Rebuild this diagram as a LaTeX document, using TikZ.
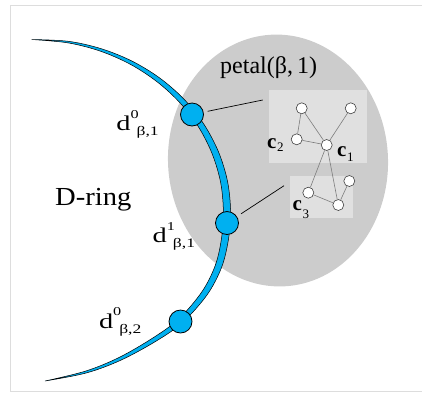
\documentclass[tikz,border=0pt]{standalone}
\usepackage{fontspec}
\setmainfont{Liberation Serif}
\usepackage{graphicx}
\definecolor{ringblue}{RGB}{0,176,240}
\definecolor{petalgray}{RGB}{204,204,204}
\definecolor{boxgray}{RGB}{224,224,224}
\definecolor{framegray}{RGB}{221,221,221}
\definecolor{linkgray}{RGB}{125,125,125}
\newcommand{\dlbl}[3]{\scalebox{1.35}[1]{\fontsize{21}{21}\selectfont d\rlap{\raisebox{#3}{\fontsize{12}{12}\selectfont #1}}\kern4.5pt\raisebox{-5pt}{\fontsize{13}{13}\selectfont #2}}}
\newcommand{\clbl}[2]{{\fontsize{21}{21}\selectfont\bfseries c}\kern0.5pt\raisebox{-#2}{\fontsize{13}{13}\selectfont #1}}
\begin{document}
\begin{tikzpicture}[x=1pt,y=-1pt,
  bignode/.style={circle, fill=ringblue, draw=black, line width=0.8pt, minimum size=23pt, inner sep=0pt},
  smallnode/.style={circle, fill=white, draw=black!75, line width=0.6pt, minimum size=11pt, inner sep=0pt},
  linkline/.style={draw=linkgray, line width=0.6pt},
  pointer/.style={draw=black, line width=0.7pt},
  groupbox/.style={fill=boxgray, draw=none},
  lbl/.style={inner sep=0pt, anchor=base west}]
\useasboundingbox (0,0) rectangle (422,392);
% frame
\draw[framegray, line width=1pt] (422,5.3) -- (10.3,5.3) -- (10.3,391.3) -- (422,391.3);
% petal
\fill[petalgray] plot[domain=0:360, samples=120, smooth] ({278+109.85*cos(\x)+6.59*sin(\x)},{160.5-5.76*cos(\x)+125.8*sin(\x)}) -- cycle;
\fill[groupbox] (269.3,90) rectangle (366.7,163.3);
\fill[groupbox] (290,176) rectangle (353.3,218.3);
% ring band (tapered)
\filldraw[fill=ringblue, draw=black, line width=0.5pt]
  plot[smooth, tension=0.55] coordinates {(31.6,39.5) (68.43,41.31) (101.1,48.66) (131.83,61.0) (159.79,78.06) (184.07,99.26) (203.82,124.13) (218.46,151.76) (227.54,181.38) (230.6,212) (228.26,240.55) (221.38,267.88) (206.96,295.01) (182.46,322.61) (155.67,341.36) (120.69,360.25) (86.28,372.96) (45,381)}
  -- plot[smooth, tension=0.55] coordinates {(45,381) (85.72,371.04) (119.31,357.35) (153.33,337.64) (178.94,318.79) (202.04,291.59) (215.22,265.53) (221.34,239.45) (223.4,212) (220.67,182.72) (212.34,154.24) (198.78,127.37) (180.13,102.94) (157.02,81.74) (130.17,64.2) (100.3,51.14) (68.18,42.89) (31.6,39.5)}
  -- cycle;
% big nodes
\node[bignode] (n1) at (192,114.5) {};
\node[bignode] (n2) at (227,223) {};
\node[bignode] (n3) at (180.5,321.5) {};
\coordinate (q1) at (262.7,100);
\coordinate (q2) at (284,185.7);
\draw[pointer, shorten <=4pt] (n1) -- (q1);
\draw[pointer, shorten <=5pt] (n2) -- (q2);
% small graph
\node[smallnode] (a) at (301.7,108.3) {};
\node[smallnode] (b) at (350.7,108.3) {};
\node[smallnode] (c2) at (296.7,139.3) {};
\node[smallnode] (c1) at (326.7,145) {};
\node[smallnode] (c3) at (308.3,192.7) {};
\node[smallnode] (d) at (349.3,181) {};
\node[smallnode] (e) at (338.3,205) {};
\draw[linkline] (a) -- (c2);
\draw[linkline] (a) -- (c1);
\draw[linkline] (b) -- (c1);
\draw[linkline] (c2) -- (c1);
\draw[linkline] (c1) -- (c3);
\draw[linkline] (c1) -- (e);
\draw[linkline] (c3) -- (e);
\draw[linkline] (d) -- (e);
% labels
\node[lbl] (petal) at (220,73.5) {\fontsize{24}{24}\selectfont petal(β,\,1)};
\node[lbl] (dring) at (55,205) {\scalebox{1.1}[1]{\fontsize{26}{26}\selectfont D-ring}};
\node[lbl] (l1) at (116.2,130) {\dlbl{0}{β,1}{11.5pt}};
\node[lbl] (l2) at (152.5,242.5) {\dlbl{1}{β,1}{12.5pt}};
\node[lbl] (l3) at (98.8,328) {\dlbl{0}{β,2}{12.5pt}};
\node[lbl] (lc2) at (267,148.5) {\clbl{2}{3pt}};
\node[lbl] (lc1) at (337,156.5) {\clbl{1}{5pt}};
\node[lbl] (lc3) at (292.5,210.5) {\clbl{3}{8pt}};
\end{tikzpicture}
\end{document}
